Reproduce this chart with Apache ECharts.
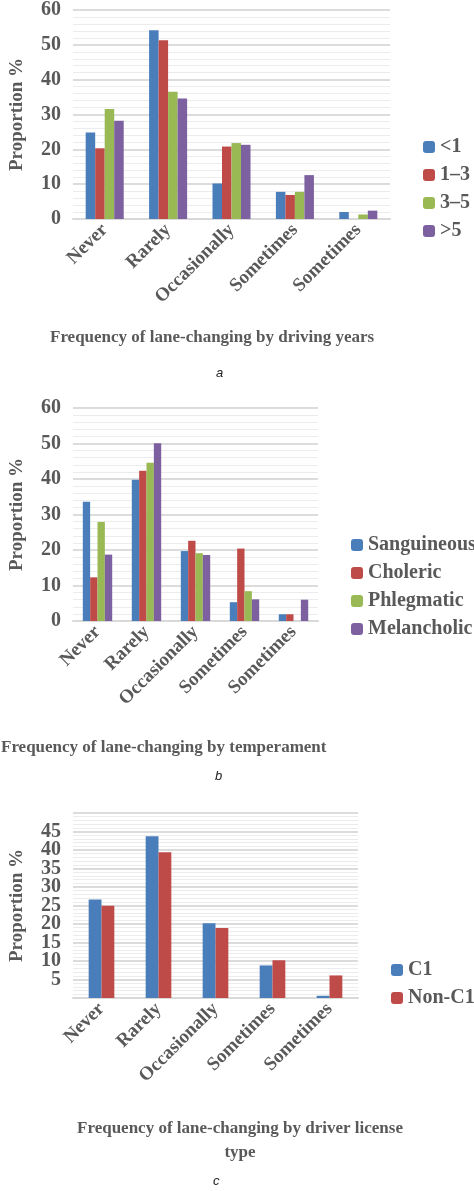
<!DOCTYPE html>
<html><head><meta charset="utf-8">
<script src="https://cdn.jsdelivr.net/npm/echarts@6/dist/echarts.min.js"></script>
<style>html,body{margin:0;padding:0;background:#fff}#c{width:474px;height:1191px}</style>
</head><body><div id="c"></div>
<script>
const categories = ['Never','Rarely','Occasionally','Sometimes','Sometimes'];
const seriesA = ['<1','1–3','3–5','>5'];
const valuesA = [[24.8,54.2,10.2,7.8,2.0],[20.3,51.3,20.8,6.9,0],[31.6,36.5,21.8,7.8,1.3],[28.2,34.6,21.3,12.6,2.4]];
const seriesB = ['Sanguineous','Choleric','Phlegmatic','Melancholic'];
const valuesB = [[33.6,39.8,19.7,5.3,1.9],[12.3,42.3,22.6,20.4,1.9],[27.9,44.6,19.1,8.4,0],[18.7,50.1,18.6,6.1,6.0]];
const seriesC = ['C1','Non-C1'];
const valuesC = [[26.6,43.7,20.2,8.8,0.6],[24.9,39.4,18.9,10.2,6.1]];
const colors = ['#4a7ebb','#be4b48','#98b954','#7d60a0'];
const F = 'Liberation Serif', TC = '#595959';
const grids = [
  {left:65,top:10,width:325,height:209},
  {left:65,top:408,width:253,height:213},
  {left:65,top:813,width:293,height:185}
];
const ymax=[60,60,50], yint=[10,10,5];
const titles=['Frequency of lane-changing by driving years','Frequency of lane-changing by temperament','Frequency of lane-changing by driver license\ntype'];
const xAxis=[],yAxis=[],series=[],legend=[];
[[seriesA,valuesA],[seriesB,valuesB],[seriesC,valuesC]].forEach(([names,vals],i)=>{
  xAxis.push({gridIndex:i,type:'category',data:categories,
    axisLine:{lineStyle:{color:'#d9d9d9',width:2}},axisTick:{show:false},
    axisLabel:{rotate:45,interval:0,fontFamily:F,fontWeight:'bold',fontSize:19,color:TC,margin:8}});
  yAxis.push({gridIndex:i,type:'value',min:0,max:ymax[i],interval:yint[i],
    name:'Proportion %',nameLocation:'middle',nameGap:46,nameRotate:90,
    nameTextStyle:{fontFamily:F,fontWeight:'bold',fontSize:19,color:TC},
    axisLabel:{fontFamily:F,fontWeight:'bold',fontSize:20,color:TC,margin:12},
    axisLine:{show:false},axisTick:{show:false},
    splitLine:{lineStyle:{color:'#d0d0d0',width:1.5}},
    minorTick:{show:false,splitNumber:5},minorSplitLine:{show:true,lineStyle:{color:'#ececec'}}});
  names.forEach((n,j)=>series.push({name:n,type:'bar',xAxisIndex:i,yAxisIndex:i,data:vals[j],
    itemStyle:{color:colors[j]},barGap:'0%',barCategoryGap:i==2?'55%':'40%'}));
});
const lt={fontFamily:F,fontWeight:'bold',fontSize:20,color:TC};
legend.push({data:seriesA,left:418,top:132,orient:'vertical',itemGap:8,itemWidth:12,itemHeight:12,textStyle:lt});
legend.push({data:seriesB,left:346,top:530,orient:'vertical',itemGap:8,itemWidth:12,itemHeight:12,textStyle:lt});
legend.push({data:seriesC,left:386,top:955,orient:'vertical',itemGap:8,itemWidth:12,itemHeight:12,textStyle:lt});
const graphic=[
  {type:'text',left:50,top:329,style:{text:titles[0],font:'bold 17px "Liberation Serif"',fill:'#595959'}},
  {type:'text',left:216,top:367,style:{text:'a',font:'italic 13px "Liberation Sans"',fill:'#222'}},
  {type:'text',left:1,top:739,style:{text:titles[1],font:'bold 17px "Liberation Serif"',fill:'#595959'}},
  {type:'text',left:215,top:770,style:{text:'b',font:'italic 13px "Liberation Sans"',fill:'#222'}},
  {type:'text',left:50,top:1117,style:{text:titles[2],font:'bold 17px "Liberation Serif"',fill:'#595959',align:'center',width:380,textAlign:'center',lineHeight:24}},
  {type:'text',left:213,top:1175,style:{text:'c',font:'italic 13px "Liberation Sans"',fill:'#222'}}
];
const chart=echarts.init(document.getElementById('c'));
chart.setOption({animation:false,grid:grids,xAxis,yAxis,series,legend,graphic});
</script></body></html>
